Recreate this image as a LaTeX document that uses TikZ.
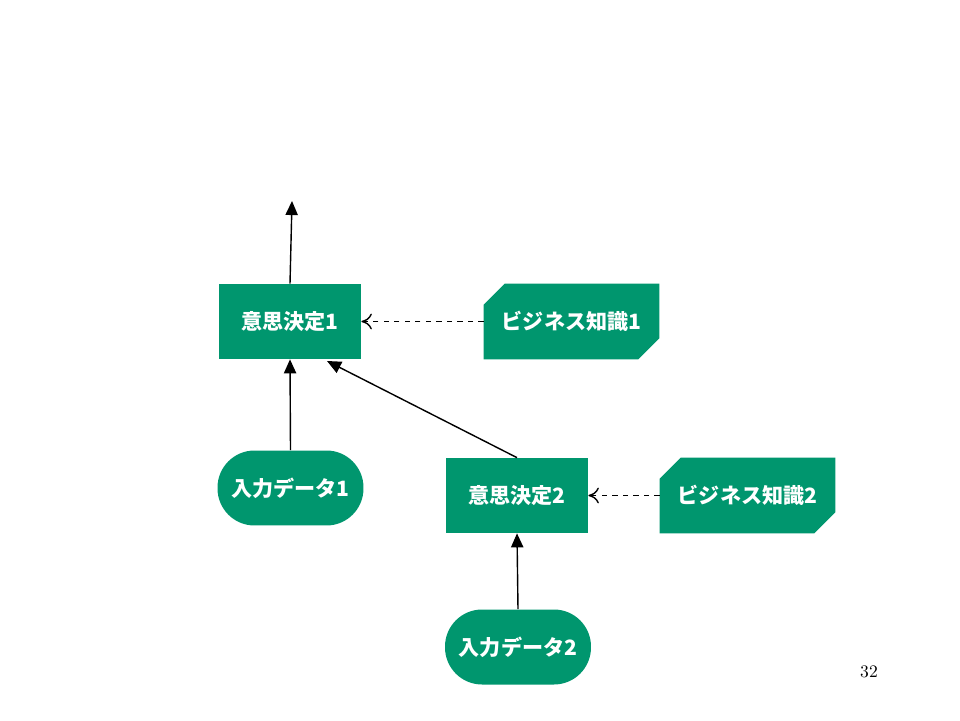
\documentclass[tikz,border=0pt]{standalone}
\usepackage{fontspec}
\newfontfamily\cjk{Noto Sans CJK JP}
\usetikzlibrary{arrows.meta}
\definecolor{dmngreen}{RGB}{0,150,110}
\tikzset{
  decision/.style={fill=dmngreen, text=white, minimum width=2.84cm, minimum height=1.5cm, font=\cjk\bfseries\large},
  inputdata/.style={decision, minimum width=2.92cm, rounded corners=0.74cm},
  knowledge/.style={text=white, minimum width=3.5cm, minimum height=1.5cm, font=\cjk\bfseries\large},
  flow/.style={-{Triangle[length=8pt,width=7pt]}, thick},
  knowflow/.style={-{To[length=6pt,width=9pt]}, thick, dashed}
}
\begin{document}
\begin{tikzpicture}[x=0.02cm,y=-0.02cm]
  \useasboundingbox (0,0) rectangle (960,720);
  %% Nodes
  \node[decision] (d1) at (290,321.5) {意思決定1};
  \node[decision] (d2) at (517,495.5) {意思決定2};
  \node[inputdata] (i1) at (290.5,488) {入力データ1};
  \node[inputdata] (i2) at (518,647) {入力データ2};
  \node[knowledge] (k1) at (571.5,321.5) {};
  \node[knowledge] (k2) at (747.5,495.5) {};
  %% Knowledge shapes
  \foreach \k/\t in {k1/ビジネス知識1, k2/ビジネス知識2} {
    \fill[dmngreen] ([yshift=-0.42cm]\k.north west) -- ([xshift=0.42cm]\k.north west)
      -- (\k.north east) -- ([yshift=0.42cm]\k.south east) -- ([xshift=-0.42cm]\k.south east)
      -- (\k.south west) -- cycle;
    \node[text=white, font=\cjk\bfseries\large] at (\k) {\t};
  }
  \coordinate (top) at (292,201);
  %% Connectors
  \draw[flow] (d1.north) -- (top);
  \draw[flow] (i1.north) -- (d1.south);
  \draw[flow] (d2.north) -- (327,361);
  \draw[flow] (i2.north) -- (d2.south);
  \draw[knowflow] (k1.west) -- (d1.east);
  \draw[knowflow] (k2.west) -- (d2.east);
  \node (page) at (869,672) {32};
\end{tikzpicture}
\end{document}
